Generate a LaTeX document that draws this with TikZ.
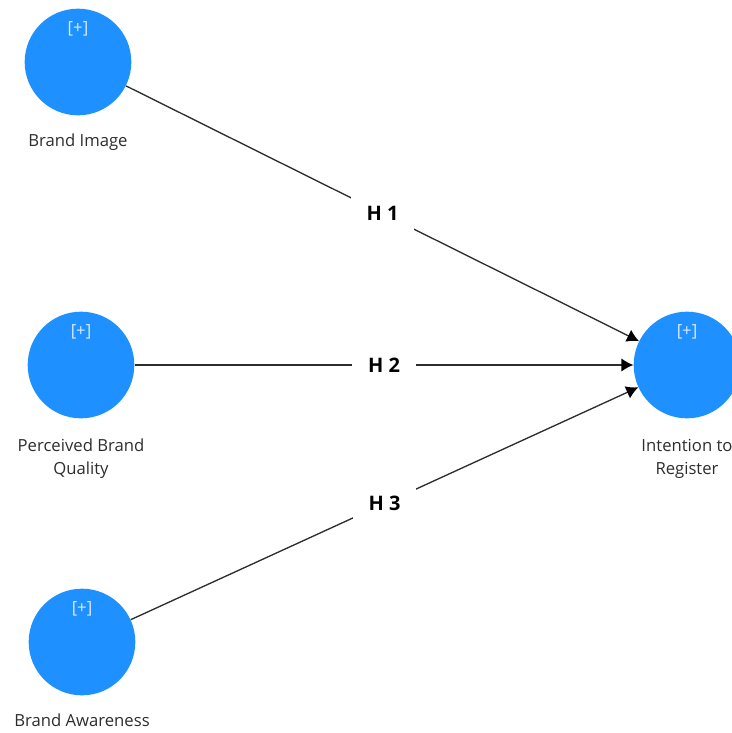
\documentclass[tikz,border=0pt]{standalone}
\usepackage{fontspec}
\setmainfont{Open Sans}
\usetikzlibrary{positioning,arrows.meta}
\definecolor{lvblue}{RGB}{30,144,255}
\definecolor{plusgray}{RGB}{215,235,255}
\definecolor{inkgray}{RGB}{45,45,45}

\tikzset{
  construct/.style={circle, fill=lvblue, minimum size=80pt, inner sep=0pt,
    label={[plustext, label distance=-24pt]90:{[+]}}},
  plustext/.style={text=plusgray, font=\fontsize{12.5}{14}\selectfont},
  caption/.style={align=center, text=inkgray, font=\fontsize{12.5}{17}\selectfont},
  hyp/.style={fill=white, text=black, inner xsep=12pt, inner ysep=8pt,
    font=\bfseries\fontsize{15}{18}\selectfont},
  hypline/.style={draw=inkgray, line width=1pt,
    -{Latex[length=9pt,width=10pt,color=black]}}
}

\begin{document}
\begin{tikzpicture}[x=0.75pt, y=-0.75pt]
  \clip (0,0) rectangle (732,733);
  \useasboundingbox (0,0) rectangle (732,733);

  % Define nodes
  \node[construct] (BI) at (78,62)   {};
  \node[construct] (PQ) at (81,365)  {};
  \node[construct] (BA) at (82,642)  {};
  \node[construct] (IR) at (687,365) {};

  % Captions
  \node[caption, below=10pt of BI] (BIcap) {Brand Image};
  \node[caption, below=12pt of PQ] (PQcap) {Perceived Brand\\Quality};
  \node[caption, below=10pt of BA] (BAcap) {Brand Awareness};
  \node[caption, below=12pt of IR] (IRcap) {Intention to\\Register};

  % Connect the nodes
  \draw[hypline] (BI) -- node[hyp] (H1) {H 1} (IR);
  \draw[hypline] (PQ) -- node[hyp] (H2) {H 2} (IR);
  \draw[hypline] (BA) -- node[hyp] (H3) {H 3} (IR);
\end{tikzpicture}
\end{document}
